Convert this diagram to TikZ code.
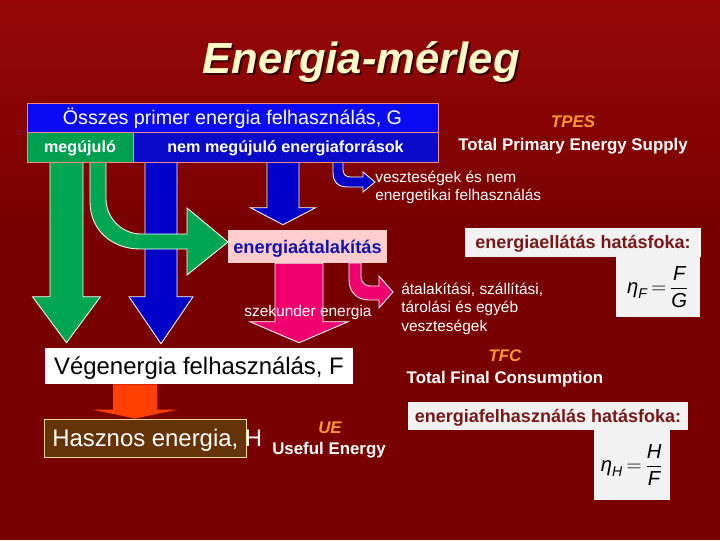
\documentclass[tikz,border=0pt]{standalone}
\usepackage{amsmath}
\usepackage{fontspec}
\setmainfont{Liberation Sans}
\usetikzlibrary{calc}

\definecolor{bgred}{RGB}{120,0,0}
\definecolor{bgtop}{RGB}{150,8,8}
\definecolor{titlecream}{RGB}{255,250,200}
\definecolor{titleshadow}{RGB}{55,0,0}
\definecolor{boxline}{RGB}{240,140,130}
\definecolor{primblue}{RGB}{10,10,245}
\definecolor{nrblue}{RGB}{10,10,200}
\definecolor{renewgreen}{RGB}{0,160,80}
\definecolor{arrowblue}{RGB}{0,0,200}
\definecolor{arrowgreen}{RGB}{0,166,81}
\definecolor{secpink}{RGB}{240,0,110}
\definecolor{convpink}{RGB}{255,205,205}
\definecolor{convtext}{RGB}{20,20,170}
\definecolor{usefulorange}{RGB}{255,64,0}
\definecolor{usefulbrown}{RGB}{100,52,8}
\definecolor{usefulline}{RGB}{255,220,150}
\definecolor{abbrorange}{RGB}{255,150,50}
\definecolor{effgray}{RGB}{242,242,242}
\definecolor{efftext}{RGB}{120,25,25}

\newcommand{\pxu}{0.025cm}
% straight block arrow pointing down: style, top, tip, shaft half, head half, head length
\newcommand{\downblock}[6]{%
  \filldraw[#1] ($(#2)+(-#4,0)$) -- ($(#3)+(-#4,-#6)$) -- ($(#3)+(-#5,-#6)$) -- (#3)
    -- ($(#3)+(#5,-#6)$) -- ($(#3)+(#4,-#6)$) -- ($(#2)+(#4,0)$) -- cycle;}

\pgfdeclarelayer{arrowlayer}
\pgfsetlayers{arrowlayer,main}

\tikzset{
  box/.style={draw=boxline, line width=0.7pt, inner sep=0pt, text=white},
  primbox/.style={box, fill=primblue, font=\fontsize{14}{16}\selectfont, text height=10pt, text depth=0pt},
  renewbox/.style={box, fill=renewgreen, font=\fontsize{11.5}{14}\selectfont\bfseries, text height=8.3pt, text depth=0pt},
  nrbox/.style={box, fill=nrblue, font=\fontsize{11.5}{14}\selectfont\bfseries, text height=8.3pt, text depth=0pt},
  convbox/.style={fill=convpink, inner sep=0pt, text=convtext, font=\fontsize{13}{15}\selectfont\bfseries, text height=9.4pt, text depth=0pt},
  finalbox/.style={fill=white, inner sep=0pt, text=black, font=\fontsize{17}{20}\selectfont, text height=12.2pt, text depth=0pt},
  usefulbox/.style={fill=usefulbrown, draw=usefulline, line width=0.7pt, inner sep=0pt},
  effbox/.style={fill=effgray, inner sep=0pt, text=efftext, font=\fontsize{12.8}{15}\selectfont\bfseries, text height=9.2pt, text depth=0pt},
  formbox/.style={fill=effgray, inner sep=0pt, text=black, font=\Large},
  abbr/.style={text=abbrorange, inner sep=0pt, anchor=base, font=\fontsize{12}{14}\selectfont\bfseries\itshape},
  engl/.style={text=white, inner sep=0pt, anchor=base, font=\fontsize{12}{14}\selectfont\bfseries},
  losstext/.style={text=white, inner sep=0pt, align=left, anchor=north west, font=\fontsize{11}{13.3}\selectfont},
  blockarrow/.style={draw=white, line width=0.6pt, line join=miter},
  titletext/.style={inner sep=0pt, anchor=base, font=\fontsize{31}{36}\selectfont\bfseries\itshape},
}

\begin{document}
\begin{tikzpicture}[x=0.025cm, y=-0.025cm]
	\useasboundingbox (0,0) rectangle (720,540);

	%% TITLE
	\node[titletext, text=titleshadow] (title_shadow) at (363,75) {Energia-mérleg};
	\node[titletext, text=titlecream] (title) at (361,73) {Energia-mérleg};

	%% PRIMARY ENERGY boxes
	\node[primbox, minimum width=411*\pxu, minimum height=29*\pxu] (total_g) at (232.5,117.5) {Összes primer energia felhasználás, G};
	\node[renewbox, minimum width=106*\pxu, minimum height=30*\pxu] (renew) at (80,147) {megújuló};
	\node[nrbox, minimum width=305*\pxu, minimum height=30*\pxu] (nonrenew) at (285.5,147) {nem megújuló energiaforrások};

	%% CONVERSION and FINAL ENERGY
	\node[convbox, minimum width=159*\pxu, minimum height=33*\pxu] (conv) at (307.5,246.5) {energiaátalakítás};
	\node[finalbox, minimum width=308*\pxu, minimum height=36*\pxu] (final_f) at (199,366) {Végenergia felhasználás, F};
	\node[usefulbox, minimum width=202*\pxu, minimum height=38*\pxu] (useful_h) at (145,438) {};
	\node[text=white, inner sep=0pt, anchor=base west, font=\fontsize{17}{20}\selectfont] (useful_txt) at (52,446.5) {Hasznos energia, H};

	%% losses and labels
	\node[losstext] (loss_primary) at (375,170.5) {veszteségek és nem\\energetikai felhasználás};
	\node[losstext] (loss_conv) at (401,282.5) {átalakítási, szállítási,\\tárolási és egyéb\\veszteségek};
	\node[text=white, inner sep=0pt, anchor=base, font=\fontsize{11}{13}\selectfont] (secondary) at (308,316.5) {szekunder energia};

	\node[abbr] (tpes) at (573,127) {TPES};
	\node[engl] (tpes_txt) at (573,150) {Total Primary Energy Supply};
	\node[abbr] (tfc) at (505,361.5) {TFC};
	\node[engl] (tfc_txt) at (505,383.5) {Total Final Consumption};
	\node[abbr] (ue) at (330,433) {UE};
	\node[engl] (ue_txt) at (329,454) {Useful Energy};

	%% EFFICIENCIES
	\node[effbox, minimum width=236*\pxu, minimum height=29*\pxu] (eff_supply) at (583,242.5) {energiaellátás hatásfoka:};
	\node[formbox, minimum width=84*\pxu, minimum height=60*\pxu] (eta_f) at (658,287)
		{$\text{\itshape η}_{\text{\itshape F}}\,{=}\,\dfrac{\text{\itshape F}}{\text{\itshape G}}$};
	\node[effbox, minimum width=280*\pxu, minimum height=28*\pxu] (eff_cons) at (548,416) {energiafelhasználás hatásfoka:};
	\node[formbox, minimum width=76*\pxu, minimum height=70*\pxu] (eta_h) at (632,465)
		{$\text{\itshape η}_{\text{\itshape H}}\,{=}\,\dfrac{\text{\itshape H}}{\text{\itshape F}}$};

	%% ARROWS (below the boxes)
	\begin{pgfonlayer}{arrowlayer}
		\fill[bgred] (0,0) rectangle (720,540);
		\shade[top color=bgtop, bottom color=bgred] (0,0) rectangle (720,230);

		\path (66.5,0 |- renew.south) coordinate (green_top);
		\path (66.5,0 |- final_f.north) ++(0,-5) coordinate (green_tip);
		\path (161,0 |- nonrenew.south) coordinate (blue_top);
		\path (161,0 |- final_f.north) ++(0,-4) coordinate (blue_tip);
		\path (283,0 |- nonrenew.south) coordinate (conv_in_top);
		\path (283,0 |- conv.north) ++(0,-5) coordinate (conv_in_tip);
		\path (299,0 |- conv.south) coordinate (sec_top);
		\path (299,0 |- final_f.north) ++(0,-5) coordinate (sec_tip);
		\path (135,0 |- final_f.south) coordinate (useful_top);
		\path (135,0 |- useful_h.north) coordinate (useful_tip);

		\downblock{blockarrow, fill=arrowgreen}{green_top}{green_tip}{16.5}{34}{46}
		\downblock{blockarrow, fill=arrowblue}{blue_top}{blue_tip}{16}{32}{47}
		\downblock{blockarrow, fill=arrowblue}{conv_in_top}{conv_in_tip}{16}{32.5}{17}
		\downblock{blockarrow, fill=secpink}{sec_top}{sec_tip}{24}{49}{21}
		\downblock{blockarrow, fill=usefulorange, draw=none}{useful_top}{useful_tip}{22}{43}{9}

		% renewable into conversion
		\filldraw[blockarrow, fill=arrowgreen] (90,162) -- (90,202) .. controls (90,230) and (112,249) .. (140,249)
			-- (187,249) -- (187,275) -- (228,242) -- (187,208) -- (187,234) -- (141,234)
			.. controls (122,234) and (106,218) .. (106,199) -- (106,162) -- cycle;
		% primary losses
		\filldraw[blockarrow, fill=arrowblue] (333,162) -- (333,172) .. controls (333,182) and (338,187) .. (348,187)
			-- (363,187) -- (363,192) -- (375,182) -- (363,172) -- (363,177) -- (350,177)
			.. controls (346,177) and (343,174) .. (343,170) -- (343,162) -- cycle;
		% conversion losses
		\filldraw[blockarrow, fill=secpink] (349,263) -- (349,280) .. controls (349,292) and (357,300) .. (369,300)
			-- (379,300) -- (379,308) -- (393,292) -- (379,276) -- (379,286) -- (370,286)
			.. controls (365,286) and (361,282) .. (361,277) -- (361,263) -- cycle;
	\end{pgfonlayer}
\end{tikzpicture}
\end{document}
